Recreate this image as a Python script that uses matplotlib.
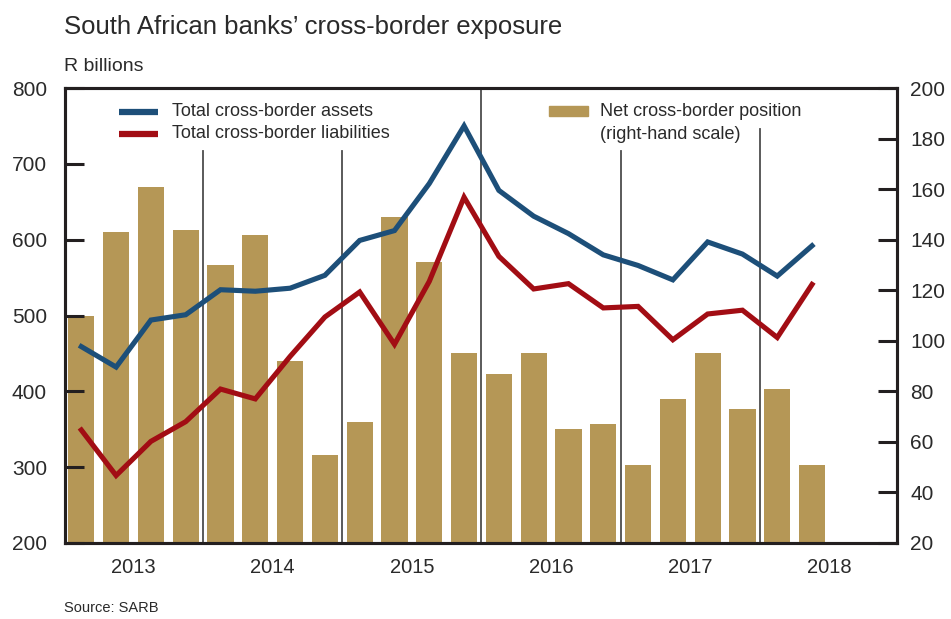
import matplotlib.pyplot as plt
from matplotlib.patches import Rectangle

plt.rcParams['font.family'] = ['Liberation Sans', 'DejaVu Sans']

# quarterly data, 2013Q1 - 2018Q2
years = ['2013', '2014', '2015', '2016', '2017', '2018']
assets = [459, 432, 494, 501, 534, 532, 536, 553, 599, 612, 674, 750,
          665, 631, 608, 580, 566, 547, 597, 581, 552, 592]
liabilities = [349, 289, 334, 360, 403, 390, 446, 498, 531, 462, 545, 656,
               578, 535, 542, 510, 512, 468, 502, 507, 471, 541]
net_position = [110, 143, 161, 144, 130, 142, 92, 55, 68, 149, 131, 95,
                87, 95, 65, 67, 51, 77, 95, 73, 81, 51]

blue = '#1d4f79'
red = '#a20d14'
gold = '#b59756'
txt = '#2a2a2a'

fig = plt.figure(figsize=(9.51, 6.19), dpi=100)
ax = fig.add_axes([0.0683, 0.1228, 0.8745, 0.735])
ax2 = ax.twinx()
ax.set_zorder(ax2.get_zorder() + 1)
ax.patch.set_visible(False)

x = list(range(len(assets)))
ax2.bar(x, net_position, width=0.75, color=gold, zorder=1)
ax.plot(x, assets, color=blue, lw=3.7, solid_joinstyle='miter', zorder=4)
ax.plot(x, liabilities, color=red, lw=3.7, solid_joinstyle='miter', zorder=4)

# year separators, cut short under the legend text
sep_top = [0.862, 0.862, 1.0, 0.862, 0.91]
for k, top in enumerate(sep_top):
    ax.axvline(3.5 + 4 * k, ymin=0, ymax=top, color='#4d4d4d', lw=1.3, zorder=2)

ax.set_xlim(-0.47, 23.43)
ax.set_ylim(200, 800)
ax2.set_ylim(20, 200)
ax.set_yticks(range(200, 801, 100))
ax2.set_yticks(range(20, 201, 20))
ax.set_xticks([1.5 + 4 * k for k in range(len(years))])
ax.set_xticklabels(years)

ax.tick_params(axis='y', direction='in', length=14, width=2.2, pad=13,
               labelsize=15, labelcolor=txt, color='#231f20')
ax2.tick_params(axis='y', direction='in', length=14, width=2.2, pad=10,
                labelsize=15, labelcolor=txt, color='#231f20')
ax.tick_params(axis='x', length=0, pad=11, labelsize=14.5, labelcolor=txt)
for a in (ax, ax2):
    for s in a.spines.values():
        s.set_linewidth(2.2)
        s.set_color('#231f20')

# legend
ax.plot([0.065, 0.112], [0.948, 0.948], transform=ax.transAxes, color=blue, lw=4.5,
        solid_capstyle='butt', zorder=5)
ax.plot([0.065, 0.112], [0.899, 0.899], transform=ax.transAxes, color=red, lw=4.5,
        solid_capstyle='butt', zorder=5)
ax.text(0.129, 0.948, 'Total cross-border assets', transform=ax.transAxes,
        fontsize=13, color=txt, va='center')
ax.text(0.129, 0.899, 'Total cross-border liabilities', transform=ax.transAxes,
        fontsize=13, color=txt, va='center')
ax.add_patch(Rectangle((0.582, 0.938), 0.047, 0.022, transform=ax.transAxes,
                       color=gold, zorder=5))
ax.text(0.643, 0.949, 'Net cross-border position', transform=ax.transAxes,
        fontsize=13, color=txt, va='center')
ax.text(0.643, 0.898, '(right-hand scale)', transform=ax.transAxes,
        fontsize=13, color=txt, va='center')

fig.text(0.067, 0.956, 'South African banks’ cross-border exposure', fontsize=18.5,
         color=txt, va='center')
fig.text(0.067, 0.893, 'R billions', fontsize=14, color=txt, va='center')
fig.text(0.067, 0.018, 'Source: SARB', fontsize=10.5, color=txt, va='center')

fig.savefig('out.png', dpi=100)
